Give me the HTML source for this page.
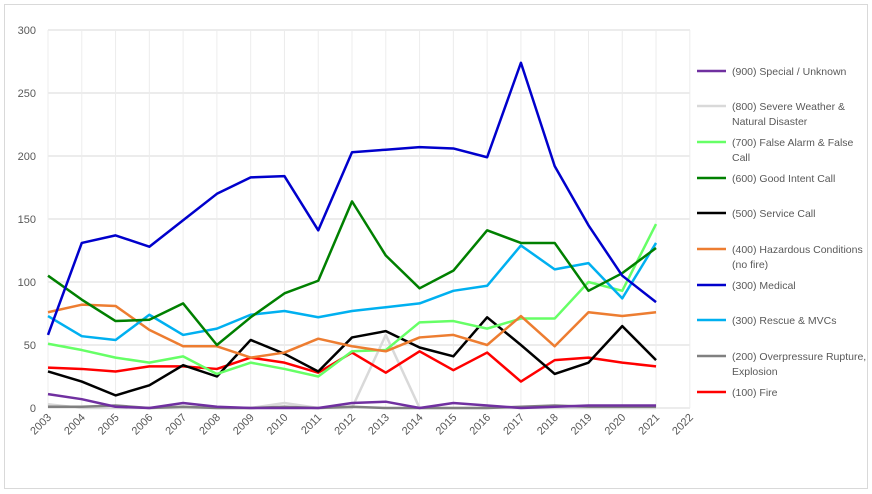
<!DOCTYPE html><html><head><style>body{margin:0;background:#fff}svg{display:block;font-family:"Liberation Sans",sans-serif}</style></head><body>
<svg id="s" width="872" height="494" xmlns="http://www.w3.org/2000/svg"></svg>
<script>
const s=document.getElementById('s');let h='<rect x="4.5" y="4.5" width="863" height="484" fill="#fff" stroke="#d9d9d9"/>';
const X=i=>48+i*33.78,Y=v=>408-v*1.26;
for(let v=0;v<=300;v+=50){h+=`<line x1="48" x2="690" y1="${Y(v)}" y2="${Y(v)}" stroke="#d9d9d9"/><text x="36" y="${Y(v)+4}" font-size="11" fill="#595959" text-anchor="end">${v}</text>`;}
for(let i=0;i<=19;i++){h+=`<line x1="${X(i)}" x2="${X(i)}" y1="30" y2="408" stroke="#ececec"/><text transform="translate(${X(i)+4},${418}) rotate(-45)" font-size="11" fill="#595959" text-anchor="end">${2003+i}</text>`;}
const S=[
['#d9d9d9',[3,0,0,0,0,0,0,4,0,0,58,0,0,0,0,0,0,0,0]],
['#808080',[1,1,2,0,1,0,0,1,0,1,0,0,0,0,1,2,1,1,1]],
['#7030a0',[11,7,1,0,4,1,0,0,0,4,5,0,4,2,0,1,2,2,2]],
['#ff0000',[32,31,29,33,33,31,40,36,28,44,28,45,30,44,21,38,40,36,33]],
['#000000',[29,21,10,18,34,25,54,43,29,56,61,48,41,72,50,27,36,65,38]],
['#66ff66',[51,46,40,36,41,27,36,31,25,45,46,68,69,63,71,71,100,93,146]],
['#ed7d31',[76,82,81,62,49,49,40,44,55,49,45,56,58,50,73,49,76,73,76]],
['#00b0f0',[73,57,54,74,58,63,74,77,72,77,80,83,93,97,129,110,115,87,131]],
['#008000',[105,86,69,70,83,50,72,91,101,164,121,95,109,141,131,131,93,107,127]],
['#0000cc',[58,131,137,128,149,170,183,184,141,203,205,207,206,199,274,192,145,105,84]]];
for(const [c,d] of S)h+=`<polyline fill="none" stroke="${c}" stroke-width="2.5" stroke-linejoin="round" points="${d.map((v,i)=>X(i)+','+Y(v)).join(' ')}"/>`;
const L=[[71,'#7030a0',['(900) Special / Unknown']],[106,'#d9d9d9',['(800) Severe Weather &','Natural Disaster']],[142,'#66ff66',['(700) False Alarm & False','Call']],[178,'#008000',['(600) Good Intent Call']],[213,'#000000',['(500) Service Call']],[249,'#ed7d31',['(400) Hazardous Conditions','(no fire)']],[285,'#0000cc',['(300) Medical']],[320,'#00b0f0',['(300) Rescue & MVCs']],[356,'#808080',['(200) Overpressure Rupture,','Explosion']],[392,'#ff0000',['(100) Fire']]];
for(const [y,c,t] of L){h+=`<line x1="697" x2="726" y1="${y}" y2="${y}" stroke="${c}" stroke-width="2.5"/>`;t.forEach((s,k)=>h+=`<text x="732" y="${y+4+k*15}" font-size="10.5" fill="#595959">${s.replace('&','&amp;')}</text>`);}
s.innerHTML=h;
</script></body></html>
